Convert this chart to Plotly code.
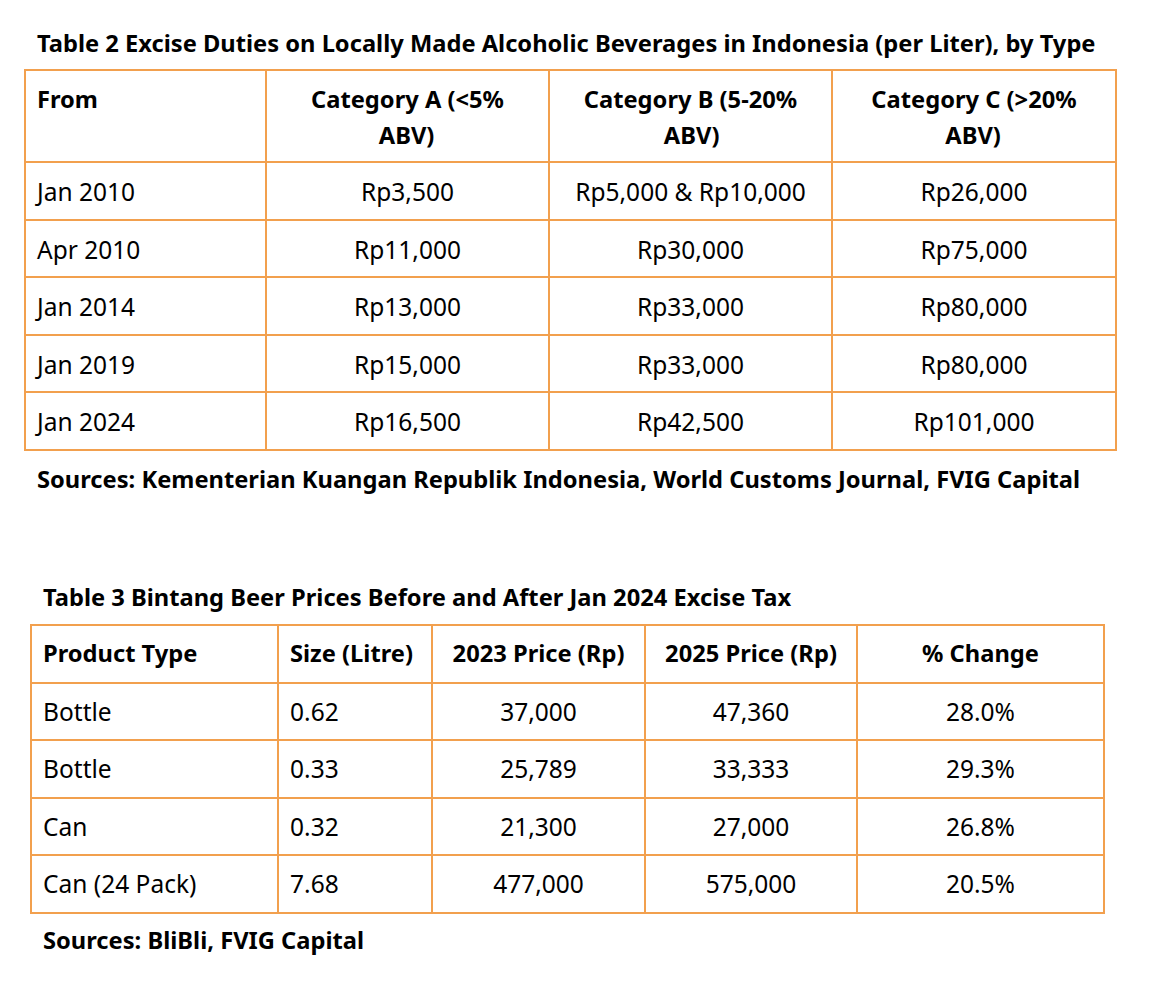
import plotly.graph_objects as go

# Table 2 data
t2_title = "Table 2 Excise Duties on Locally Made Alcoholic Beverages in Indonesia (per Liter), by Type"
t2_source = "Sources: Kementerian Kuangan Republik Indonesia, World Customs Journal, FVIG Capital"
t2_header = [["From", ""], ["Category A (&lt;5%", "ABV)"], ["Category B (5-20%", "ABV)"],
             ["Category C (&gt;20%", "ABV)"]]
t2_from = ["Jan 2010", "Apr 2010", "Jan 2014", "Jan 2019", "Jan 2024"]
t2_cat_a = ["Rp3,500", "Rp11,000", "Rp13,000", "Rp15,000", "Rp16,500"]
t2_cat_b = ["Rp5,000 & Rp10,000", "Rp30,000", "Rp33,000", "Rp33,000", "Rp42,500"]
t2_cat_c = ["Rp26,000", "Rp75,000", "Rp80,000", "Rp80,000", "Rp101,000"]

# Table 3 data
t3_title = "Table 3 Bintang Beer Prices Before and After Jan 2024 Excise Tax"
t3_source = "Sources: BliBli, FVIG Capital"
t3_header = ["Product Type", "Size (Litre)", "2023 Price (Rp)", "2025 Price (Rp)", "% Change"]
t3_product = ["Bottle", "Bottle", "Can", "Can (24 Pack)"]
t3_size = ["0.62", "0.33", "0.32", "7.68"]
t3_price_2023 = ["37,000", "25,789", "21,300", "477,000"]
t3_price_2025 = ["47,360", "33,333", "27,000", "575,000"]
t3_change = ["28.0%", "29.3%", "26.8%", "20.5%"]

W, H = 1150, 984
OFF = 8  # page body margin
ORANGE = "#F2A04E"
FONT = "Noto Sans"
SIZE = 24.5
BOLD_SIZE = 23.7
NBSP = "\u00a0"
THIN = "\u2009"


def shift(s, dy):
    # push text down inside its cell; the unshifted thin spaces hold the text top in place
    # (newline in the tag keeps plotly from wrapping it)
    return THIN + '<span\nstyle="baseline-shift:-%.1fpx">%s</span>' % (dy, s) + THIN


def head2(lines, pad, dy1, dy2):
    # two-line header, second line centred under the first with padding
    l1, l2 = lines
    if not l2:
        return "<b>" + shift(l1, dy1) + "</b>"
    return "<b>" + shift(l1, dy1) + "<br>" + shift(NBSP * pad + l2, dy2) + "</b>"


def body(col, dy):
    return [shift(s, dy) for s in col]


def xdom(left, right):
    return [(left - OFF) / W, (right - OFF) / W]


def ydom(top, bottom):
    return [1 - (bottom - OFF) / H, 1 - (top - OFF) / H]


fig = go.Figure()

t2_pads = [0, 11, 13, 12]
fig.add_trace(go.Table(
    domain=dict(x=xdom(25, 1116), y=ydom(70, 452)),
    columnwidth=[241, 283, 283, 284],
    header=dict(
        values=[head2(h, p, 5, 10) for h, p in zip(t2_header, t2_pads)],
        align=["left", "center", "center", "center"],
        height=92,
        line=dict(color=ORANGE, width=2),
        fill=dict(color="white"),
        font=dict(family=FONT, size=BOLD_SIZE, color="black"),
    ),
    cells=dict(
        values=[body(t2_from, 5), body(t2_cat_a, 5), body(t2_cat_b, 5), body(t2_cat_c, 5)],
        align=["left", "center", "center", "center"],
        height=57.6,
        line=dict(color=ORANGE, width=2),
        fill=dict(color="white"),
        font=dict(family=FONT, size=SIZE, color="black"),
    ),
))

fig.add_trace(go.Table(
    domain=dict(x=xdom(31, 1104), y=ydom(625, 914)),
    columnwidth=[247, 154, 213, 212, 247],
    header=dict(
        values=["<b>" + shift(h, 4) + "</b>" for h in t3_header],
        align=["left", "left", "center", "center", "center"],
        height=57.5,
        line=dict(color=ORANGE, width=2),
        fill=dict(color="white"),
        font=dict(family=FONT, size=BOLD_SIZE, color="black"),
    ),
    cells=dict(
        values=[body(t3_product, 3.5), body(t3_size, 3.5), body(t3_price_2023, 3.5),
                body(t3_price_2025, 3.5), body(t3_change, 3.5)],
        align=["left", "left", "center", "center", "center"],
        height=57.5,
        line=dict(color=ORANGE, width=2),
        fill=dict(color="white"),
        font=dict(family=FONT, size=SIZE, color="black"),
    ),
))

texts = [(t2_title, 37, 43), (t2_source, 37, 479), (t3_title, 43, 597), (t3_source, 43, 940)]
for txt, x, y in texts:
    fig.add_annotation(
        text="<b>" + txt + "</b>", x=(x - OFF - 2) / W, y=1 - (y - OFF) / H,
        xref="paper", yref="paper", xanchor="left", yanchor="middle", showarrow=False,
        font=dict(family=FONT, size=BOLD_SIZE, color="black"),
    )

fig.update_layout(
    width=W, height=H,
    margin=dict(l=0, r=0, t=0, b=0),
    paper_bgcolor="white",
    plot_bgcolor="white",
)

fig.write_html("out.html")
